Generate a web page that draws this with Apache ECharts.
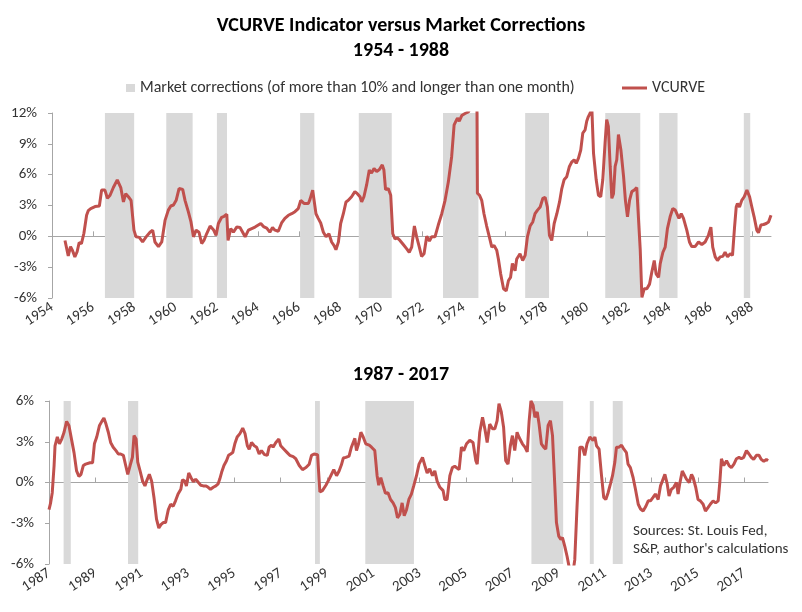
<!DOCTYPE html>
<html>
<head>
<meta charset="utf-8">
<script src="https://cdn.jsdelivr.net/npm/echarts@6/dist/echarts.min.js"></script>
<style>
html,body{margin:0;padding:0;background:#fff;}
#chart{width:802px;height:612px;}
</style>
</head>
<body>
<div id="chart"></div>
<script>
// ---------- DATA ----------
const bandName = 'Market corrections (of more than 10% and longer than one month)';
const lineName = 'VCURVE';

const topYearTicks = [1954,1956,1958,1960,1962,1964,1966,1968,1970,1972,1974,1976,1978,1980,1982,1984,1986,1988];
const bottomYearTicks = [1987,1989,1991,1993,1995,1997,1999,2001,2003,2005,2007,2009,2011,2013,2015,2017];

// market corrections [start, end] (decimal years)
const topCorrections = [
  [1956.57,1957.99],[1959.55,1960.83],[1962.01,1962.50],[1966.05,1966.74],[1968.90,1970.50],
  [1972.99,1974.71],[1976.98,1978.14],[1980.87,1982.57],[1983.49,1984.38],[1987.60,1987.91]
];
const bottomCorrections = [
  [1987.63,1987.94],[1990.41,1990.85],[1998.48,1998.69],[2000.65,2002.75],
  [2007.82,2009.19],[2010.34,2010.51],[2011.33,2011.76]
];

// VCURVE 1954-1988 [decimal year, percent]
const vcurve1954 = [
[1954.63,-0.4],[1954.79,-1.9],[1954.9,-1.0],[1955.0,-1.4],[1955.11,-2.0],[1955.22,-1.5],[1955.32,-0.6],[1955.43,-0.7],
[1955.55,0.3],[1955.68,2.05],[1955.76,2.5],[1955.88,2.7],[1956.09,2.9],[1956.3,2.95],[1956.41,4.5],[1956.57,4.5],
[1956.69,3.7],[1956.82,4.0],[1956.98,4.75],[1957.17,5.5],[1957.34,4.75],[1957.47,3.35],[1957.58,4.15],[1957.71,3.85],
[1957.84,3.5],[1957.98,0.6],[1958.08,-0.05],[1958.24,-0.1],[1958.4,-0.55],[1958.57,-0.05],[1958.76,0.4],[1958.89,0.6],
[1959.0,-0.55],[1959.17,-1.0],[1959.33,-0.55],[1959.49,1.55],[1959.65,2.55],[1959.77,2.95],[1959.9,3.05],[1960.03,3.5],
[1960.17,4.65],[1960.35,4.55],[1960.46,3.5],[1960.62,2.4],[1960.75,1.4],[1960.87,-0.05],[1961.0,0.6],[1961.14,0.4],
[1961.27,-0.7],[1961.38,-0.4],[1961.51,0.25],[1961.68,1.0],[1961.84,0.65],[1961.97,0.1],[1962.08,1.25],[1962.24,1.85],
[1962.36,1.95],[1962.49,2.15],[1962.55,-0.4],[1962.68,0.75],[1962.81,0.4],[1962.97,0.9],[1963.13,0.85],[1963.26,0.4],
[1963.38,-0.05],[1963.54,0.6],[1963.70,0.75],[1963.86,0.9],[1964.02,1.1],[1964.14,1.25],[1964.27,0.95],[1964.43,0.8],
[1964.58,0.4],[1964.71,0.85],[1964.83,0.6],[1964.99,0.5],[1965.15,1.3],[1965.31,1.75],[1965.48,2.05],[1965.64,2.2],
[1965.8,2.4],[1965.96,2.7],[1966.08,3.5],[1966.24,3.2],[1966.45,3.2],[1966.53,3.6],[1966.66,4.5],[1966.74,4.45],
[1966.82,2.2],[1966.93,1.75],[1967.05,1.3],[1967.18,0.4],[1967.31,-0.05],[1967.45,0.25],[1967.58,-0.55],[1967.7,-0.9],
[1967.79,-1.3],[1967.91,-0.55],[1968.02,1.25],[1968.15,2.2],[1968.28,3.35],[1968.39,3.5],[1968.55,3.85],[1968.71,4.35],
[1968.83,4.15],[1968.96,3.85],[1969.04,3.35],[1969.15,3.85],[1969.28,5.0],[1969.41,6.45],[1969.52,6.15],[1969.64,6.6],
[1969.77,6.3],[1969.9,6.5],[1970.04,6.95],[1970.12,6.45],[1970.2,4.55],[1970.33,4.65],[1970.45,4.0],[1970.55,0.25],
[1970.66,-0.25],[1970.77,-0.15],[1970.9,-0.4],[1971.06,-0.8],[1971.22,-1.2],[1971.35,-1.55],[1971.47,-1.05],[1971.6,1.0],
[1971.71,-0.05],[1971.84,-1.05],[1971.95,-1.95],[1972.07,-1.7],[1972.2,0.0],[1972.33,-0.45],[1972.44,-0.05],[1972.6,-0.05],
[1972.76,1.1],[1972.93,2.2],[1973.09,3.5],[1973.25,5.3],[1973.41,7.75],[1973.53,10.85],[1973.69,11.5],[1973.78,11.2],
[1973.9,11.75],[1974.06,11.95],[1974.22,12.1],[1974.4,12.8],[1974.55,13.2],[1974.64,12.6],[1974.66,4.2],[1974.76,4.0],
[1974.87,3.5],[1974.98,2.2],[1975.11,1.0],[1975.24,-0.05],[1975.36,-1.05],[1975.47,-0.9],[1975.6,-1.35],[1975.68,-2.2],
[1975.79,-3.65],[1975.93,-5.1],[1976.06,-5.3],[1976.17,-4.3],[1976.27,-4.0],[1976.36,-2.65],[1976.49,-3.35],[1976.57,-2.2],
[1976.73,-1.7],[1976.86,-2.35],[1976.98,-1.85],[1977.09,-0.05],[1977.22,1.0],[1977.35,1.4],[1977.46,2.2],[1977.58,2.55],
[1977.71,2.85],[1977.84,3.7],[1977.95,3.8],[1978.06,2.85],[1978.16,0.1],[1978.27,-0.4],[1978.39,1.25],[1978.52,2.2],
[1978.65,3.35],[1978.76,4.65],[1978.87,5.5],[1979.0,5.8],[1979.13,6.8],[1979.25,7.25],[1979.36,7.45],[1979.46,7.1],
[1979.57,7.6],[1979.68,8.4],[1979.78,10.05],[1979.89,10.35],[1979.97,11.2],[1980.05,11.65],[1980.14,12.0],[1980.22,12.4],
[1980.3,8.1],[1980.43,5.5],[1980.54,4.0],[1980.65,3.85],[1980.75,5.5],[1980.86,9.05],[1980.94,11.35],[1981.02,10.7],
[1981.11,6.8],[1981.19,3.7],[1981.27,4.15],[1981.35,6.8],[1981.43,7.45],[1981.51,9.9],[1981.63,8.4],[1981.76,5.8],
[1981.85,3.5],[1981.95,1.9],[1982.05,3.5],[1982.16,4.35],[1982.28,4.5],[1982.4,4.75],[1982.49,4.65],[1982.57,-1.35],
[1982.65,-5.95],[1982.76,-5.1],[1982.89,-5.1],[1983.02,-4.65],[1983.13,-3.5],[1983.25,-2.35],[1983.34,-3.65],[1983.46,-4.0],
[1983.54,-2.65],[1983.67,-1.55],[1983.78,-1.05],[1983.89,0.75],[1984.02,1.9],[1984.15,2.7],[1984.27,2.55],[1984.35,2.55],
[1984.45,1.75],[1984.56,2.2],[1984.67,1.75],[1984.83,0.6],[1984.96,-0.55],[1985.07,-1.0],[1985.23,-1.0],[1985.4,-0.55],
[1985.56,-0.8],[1985.72,-0.55],[1985.88,0.1],[1986.0,0.9],[1986.09,-1.05],[1986.21,-2.0],[1986.32,-2.35],[1986.45,-2.0],
[1986.58,-1.95],[1986.69,-1.55],[1986.81,-2.0],[1986.94,-1.7],[1987.05,-1.85],[1987.15,0.9],[1987.23,2.85],[1987.29,3.2],
[1987.39,2.85],[1987.5,3.5],[1987.62,3.85],[1987.75,4.5],[1987.88,3.85],[1987.99,2.85],[1988.1,1.9],[1988.23,0.6],
[1988.31,0.35],[1988.43,1.1],[1988.56,1.15],[1988.69,1.25],[1988.8,1.4],[1988.92,2.05]
];

// VCURVE 1987-2017 [decimal year, percent]
const vcurve1987 = [
[1987.0,-2.0],[1987.07,-1.5],[1987.14,-0.75],[1987.22,1.25],[1987.26,2.7],[1987.36,3.35],[1987.45,2.85],[1987.55,3.2],
[1987.65,3.7],[1987.76,4.5],[1987.86,4.2],[1987.98,3.1],[1988.08,2.2],[1988.19,0.85],[1988.29,0.45],[1988.38,0.6],
[1988.48,1.25],[1988.58,1.35],[1988.66,1.25],[1988.77,1.45],[1988.88,1.45],[1988.96,2.85],[1989.06,3.35],[1989.18,4.2],
[1989.28,4.5],[1989.37,4.75],[1989.46,4.3],[1989.56,3.7],[1989.66,2.95],[1989.77,2.6],[1989.89,2.35],[1989.99,2.1],
[1990.09,2.1],[1990.21,2.0],[1990.31,1.25],[1990.4,0.6],[1990.5,1.25],[1990.6,1.85],[1990.67,3.45],[1990.76,3.2],
[1990.83,1.5],[1990.93,0.85],[1991.04,0.1],[1991.14,-0.25],[1991.21,0.1],[1991.33,0.6],[1991.43,0.1],[1991.53,-1.1],
[1991.64,-2.7],[1991.74,-3.35],[1991.83,-3.1],[1991.93,-2.95],[1992.03,-2.95],[1992.15,-2.0],[1992.25,-1.6],[1992.36,-1.75],
[1992.46,-1.35],[1992.57,-0.85],[1992.69,-0.5],[1992.76,0.2],[1992.86,0.1],[1992.93,-0.25],[1993.03,0.7],[1993.13,0.35],
[1993.23,0.05],[1993.33,0.25],[1993.45,0.0],[1993.55,-0.2],[1993.66,-0.25],[1993.78,-0.25],[1993.87,-0.35],[1993.97,-0.5],
[1994.09,-0.35],[1994.2,-0.25],[1994.3,-0.1],[1994.37,0.25],[1994.45,0.75],[1994.55,1.25],[1994.66,1.6],[1994.75,2.0],
[1994.84,2.1],[1994.93,2.2],[1995.02,2.85],[1995.12,3.35],[1995.24,3.6],[1995.36,4.0],[1995.46,3.6],[1995.56,2.7],
[1995.64,2.45],[1995.74,2.95],[1995.86,2.7],[1995.96,2.6],[1996.07,2.1],[1996.17,2.35],[1996.3,2.05],[1996.42,2.0],
[1996.5,2.6],[1996.6,2.75],[1996.67,2.6],[1996.79,2.95],[1996.92,3.2],[1997.0,2.7],[1997.14,2.45],[1997.28,2.2],
[1997.39,2.0],[1997.54,1.9],[1997.65,1.75],[1997.8,1.25],[1997.94,0.95],[1998.09,1.1],[1998.23,1.35],[1998.33,2.0],
[1998.44,2.1],[1998.59,2.05],[1998.69,-0.7],[1998.8,-0.6],[1998.95,-0.2],[1999.09,0.25],[1999.19,0.6],[1999.29,0.95],
[1999.41,0.5],[1999.52,0.85],[1999.62,1.3],[1999.7,1.8],[1999.81,1.85],[1999.95,1.95],[2000.05,2.6],[2000.2,3.25],
[2000.27,2.35],[2000.36,2.85],[2000.46,3.7],[2000.56,3.35],[2000.67,2.85],[2000.82,2.75],[2000.92,2.6],[2001.06,2.35],
[2001.16,0.5],[2001.23,-0.2],[2001.32,0.35],[2001.42,-0.25],[2001.52,-0.8],[2001.63,-0.75],[2001.74,-1.25],[2001.85,-1.5],
[2001.95,-1.85],[2002.04,-2.6],[2002.14,-2.35],[2002.24,-1.5],[2002.33,-2.45],[2002.43,-2.0],[2002.53,-1.25],[2002.64,-0.85],
[2002.74,-0.25],[2002.86,0.5],[2002.97,1.35],[2003.12,1.85],[2003.22,1.25],[2003.32,0.7],[2003.43,1.0],[2003.55,0.5],
[2003.65,0.85],[2003.75,0.1],[2003.87,-0.35],[2004.01,-0.6],[2004.08,-1.25],[2004.18,-1.25],[2004.3,0.5],[2004.41,1.1],
[2004.51,1.2],[2004.7,0.95],[2004.8,2.6],[2004.9,2.35],[2005.02,2.85],[2005.16,3.1],[2005.3,2.95],[2005.42,1.6],
[2005.48,1.35],[2005.59,3.7],[2005.71,4.8],[2005.81,3.95],[2005.91,2.95],[2006.02,4.3],[2006.14,3.95],[2006.24,3.95],
[2006.34,4.55],[2006.42,5.8],[2006.52,5.2],[2006.62,4.05],[2006.71,1.6],[2006.81,1.35],[2006.91,2.7],[2007.0,3.45],
[2007.1,2.35],[2007.2,3.7],[2007.28,3.35],[2007.43,2.85],[2007.54,2.6],[2007.64,2.25],[2007.72,4.5],[2007.8,6.0],
[2007.89,5.7],[2007.97,4.8],[2008.07,5.2],[2008.15,4.3],[2008.25,2.85],[2008.35,2.6],[2008.44,2.45],[2008.54,4.2],
[2008.64,4.55],[2008.73,3.45],[2008.83,-0.25],[2008.9,-2.95],[2009.0,-3.95],[2009.09,-4.2],[2009.16,-4.05],[2009.26,-4.7],
[2009.36,-5.45],[2009.48,-6.5],[2009.58,-7.0],[2009.69,-5.7],[2009.79,-1.7],[2009.91,2.6],[2010.02,2.6],[2010.12,2.0],
[2010.22,2.85],[2010.34,3.35],[2010.41,3.45],[2010.48,3.1],[2010.56,3.35],[2010.63,2.7],[2010.74,2.45],[2010.84,0.6],
[2010.94,-1.1],[2011.03,-1.25],[2011.13,-0.75],[2011.23,-0.1],[2011.32,0.5],[2011.42,1.5],[2011.49,2.6],[2011.6,2.6],
[2011.71,2.75],[2011.81,2.45],[2011.92,2.2],[2011.99,1.35],[2012.09,1.1],[2012.21,0.35],[2012.31,-0.5],[2012.43,-1.6],
[2012.53,-1.95],[2012.64,-2.1],[2012.76,-1.75],[2012.86,-1.35],[2012.96,-1.35],[2013.07,-1.1],[2013.17,-0.85],[2013.29,-1.25],
[2013.39,-0.25],[2013.47,0.1],[2013.58,0.6],[2013.68,-0.1],[2013.76,-1.0],[2013.86,-0.5],[2013.96,-0.35],[2014.08,0.0],
[2014.15,-0.85],[2014.22,-0.1],[2014.33,0.85],[2014.41,0.75],[2014.51,0.25],[2014.63,0.0],[2014.73,0.6],[2014.8,0.35],
[2014.91,-0.35],[2015.01,-1.25],[2015.11,-1.35],[2015.23,-1.6],[2015.33,-2.1],[2015.44,-1.85],[2015.54,-1.6],[2015.66,-1.35],
[2015.77,-1.5],[2015.88,-1.35],[2015.95,0.0],[2016.02,1.75],[2016.12,1.25],[2016.24,1.6],[2016.35,1.25],[2016.45,1.1],
[2016.56,1.35],[2016.67,1.75],[2016.78,1.85],[2016.88,1.75],[2016.98,1.85],[2017.1,2.35],[2017.21,2.1],[2017.31,1.85],
[2017.41,1.7],[2017.53,2.0],[2017.64,2.0],[2017.74,1.7],[2017.85,1.55],[2017.96,1.7],[2018.03,1.6]
];

// ---------- CHART ----------
const FONT = 'Carlito, Lato, sans-serif';
const TXT = '#333333';
const AXIS = '#a6a6a6';
const RED = '#c0504d';
const BAND = '#d9d9d9';

const chart = echarts.init(document.getElementById('chart'), null, {renderer: 'canvas'});

function yearLabel(v) { return String(Math.round(v)); }

function xLabelAxis(grid, min, max, ticks) {
  return {
    type: 'value', gridIndex: grid, min: min, max: max, position: 'bottom',
    axisLine: {show: false, onZero: false},
    axisTick: {show: false},
    splitLine: {show: false},
    axisLabel: {
      rotate: 33, margin: 8, color: TXT, fontSize: 15, fontFamily: FONT,
      customValues: ticks, formatter: yearLabel
    }
  };
}
function xZeroAxis(grid, min, max, ticks) {
  return {
    type: 'value', gridIndex: grid, min: min, max: max, position: 'bottom',
    axisLine: {show: true, onZero: true, lineStyle: {color: AXIS, width: 1}},
    axisTick: {show: true, inside: true, length: 5, lineStyle: {color: AXIS}, customValues: ticks},
    axisLabel: {show: false},
    splitLine: {show: false}
  };
}
function yAxisDef(grid, min, max) {
  return {
    type: 'value', gridIndex: grid, min: min, max: max, interval: 3,
    axisLine: {show: true, onZero: false, lineStyle: {color: AXIS}},
    axisTick: {show: true, length: 4, lineStyle: {color: AXIS}},
    splitLine: {show: false},
    axisLabel: {margin: 15, color: TXT, fontSize: 15, fontFamily: FONT, formatter: '{value}%'}
  };
}
function bandSeries(xi, yi, data, yMin, yMax) {
  return {
    name: bandName, type: 'custom', xAxisIndex: xi, yAxisIndex: yi,
    itemStyle: {color: BAND}, silent: true, z: 1,
    encode: {x: [0, 1]},
    data: data,
    renderItem: function (params, api) {
      const p0 = api.coord([api.value(0), yMax]);
      const p1 = api.coord([api.value(1), yMin]);
      return {type: 'rect', shape: {x: p0[0], y: p0[1], width: p1[0] - p0[0], height: p1[1] - p0[1]},
              style: {fill: BAND}};
    }
  };
}
function lineSeries(xi, yi, data) {
  return {
    name: lineName, type: 'line', xAxisIndex: xi, yAxisIndex: yi, data: data,
    symbol: 'none', showSymbol: false, z: 3, clip: true,
    itemStyle: {color: RED},
    lineStyle: {color: RED, width: 3}
  };
}

const titleStyle = {fontSize: 20, fontWeight: 'bold', color: '#000', fontFamily: FONT};

const option = {
  backgroundColor: '#ffffff',
  animation: false,
  textStyle: {fontFamily: FONT},
  title: [
    {text: 'VCURVE Indicator versus Market Corrections', left: 'center', top: 11, textStyle: titleStyle},
    {text: '1954 - 1988', left: 'center', top: 36, textStyle: titleStyle},
    {text: '1987 - 2017', left: 'center', top: 360, textStyle: titleStyle}
  ],
  legend: [
    {data: [{name: bandName, icon: 'rect'}], left: 121, top: 75, itemWidth: 9, itemHeight: 8,
     textStyle: {fontSize: 16, color: TXT, fontFamily: FONT}, selectedMode: false},
    {data: [{name: lineName, icon: 'rect'}], left: 617, top: 75, itemWidth: 25, itemHeight: 3,
     textStyle: {fontSize: 16, color: TXT, fontFamily: FONT}, selectedMode: false}
  ],
  grid: [
    {left: 52, top: 113, width: 719, height: 185},
    {left: 49, top: 401, width: 719, height: 163}
  ],
  xAxis: [
    xLabelAxis(0, 1954, 1988.92, topYearTicks),
    xZeroAxis(0, 1954, 1988.92, topYearTicks),
    xLabelAxis(1, 1987, 2018.03, bottomYearTicks),
    xZeroAxis(1, 1987, 2018.03, bottomYearTicks)
  ],
  yAxis: [
    yAxisDef(0, -6, 12),
    yAxisDef(1, -6, 6)
  ],
  series: [
    bandSeries(0, 0, topCorrections, -6, 12),
    lineSeries(0, 0, vcurve1954),
    bandSeries(2, 1, bottomCorrections, -6, 6),
    lineSeries(2, 1, vcurve1987)
  ],
  graphic: [
    {type: 'text', left: 633, top: 522, z: 10,
     style: {text: 'Sources: St. Louis Fed,\nS&P, author\'s calculations', fill: TXT,
             font: '15px ' + FONT, lineHeight: 18}}
  ]
};
chart.setOption(option);
</script>
</body>
</html>
